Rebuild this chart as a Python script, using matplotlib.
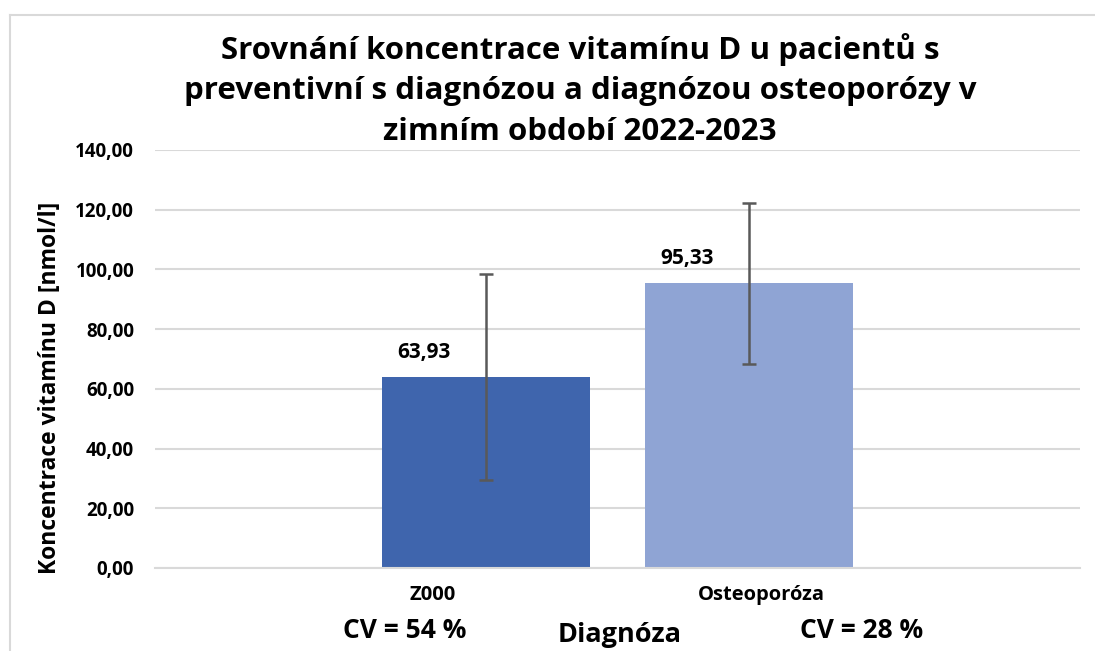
import matplotlib.pyplot as plt
import numpy as np
from matplotlib.lines import Line2D

categories = ['Z000', 'Osteoporóza']
means = [63.93, 95.33]
sd = [34.6, 27.0]
cv_labels = ['CV = 54 %', 'CV = 28 %']
bar_colors = ['#3F65AD', '#8FA4D4']

plt.rcParams['font.family'] = ['Open Sans', 'DejaVu Sans']
plt.rcParams['font.weight'] = 'bold'

fig = plt.figure(figsize=(10.95, 6.51), dpi=100)
ax = fig.add_axes([155 / 1095, 83 / 651, 925 / 1095, 418 / 651])

x = np.arange(len(categories))
ax.bar(x, means, width=0.79, color=bar_colors, zorder=2)
ax.errorbar(x, means, yerr=sd, fmt='none', ecolor='#595959', elinewidth=1.8,
            capsize=5, capthick=1.8, zorder=3)

for xi, m in zip(x, means):
    ax.annotate(f'{m:.2f}'.replace('.', ','), (xi - 0.235, m), xytext=(0, 10),
                textcoords='offset points', ha='center', va='bottom',
                fontsize=15, fontweight='bold')

ax.set_xlim(-1.259, 2.259)
ax.set_ylim(0, 140)
yt = np.arange(0, 141, 20)
ax.set_yticks(yt)
ax.set_yticklabels([f'{v:.2f}'.replace('.', ',') for v in yt], fontsize=13.5,
                   fontweight='bold')
ax.tick_params(axis='y', length=0, pad=15)
ax.set_xticks(x + np.array([-0.205, 0.049]))
ax.set_xticklabels(categories, fontsize=14.5, fontweight='bold')
ax.tick_params(axis='x', length=0, pad=12)

ax.grid(axis='y', color='#D9D9D9', linewidth=1.5, zorder=0)
for s in ['top', 'right', 'left']:
    ax.spines[s].set_visible(False)
ax.spines['bottom'].set_color('#D9D9D9')
ax.spines['bottom'].set_linewidth(1.5)

ax.set_ylabel('Koncentrace vitamínu D [nmol/l]', fontsize=16.5, fontweight='bold')
ax.yaxis.set_label_coords(-93 / 925, 0.43)

# CV notes and axis title below the axis
fig.text(405 / 1095, 1 - 630 / 651, cv_labels[0], ha='center', va='center',
         fontsize=19, fontweight='bold')
fig.text(862 / 1095, 1 - 631 / 651, cv_labels[1], ha='center', va='center',
         fontsize=19, fontweight='bold')
fig.text(620 / 1095, 1 - 635 / 651, 'Diagnóza', ha='center', va='center',
         fontsize=19.5, fontweight='bold')

fig.text(580 / 1095, 1 - 90 / 651,
         'Srovnání koncentrace vitamínu D u pacientů s\n'
         'preventivní s diagnózou a diagnózou osteoporózy v\n'
         'zimním období 2022-2023',
         ha='center', va='center', fontsize=22.5, fontweight='bold', linespacing=1.45)

# chart area border
fig.add_artist(Line2D([10 / 1095, 10 / 1095], [0, 1 - 15 / 651],
                      transform=fig.transFigure, color='#D9D9D9', linewidth=1.5))
fig.add_artist(Line2D([10 / 1095, 1], [1 - 15 / 651, 1 - 15 / 651],
                      transform=fig.transFigure, color='#D9D9D9', linewidth=1.5))

fig.savefig('out.png', dpi=100)
